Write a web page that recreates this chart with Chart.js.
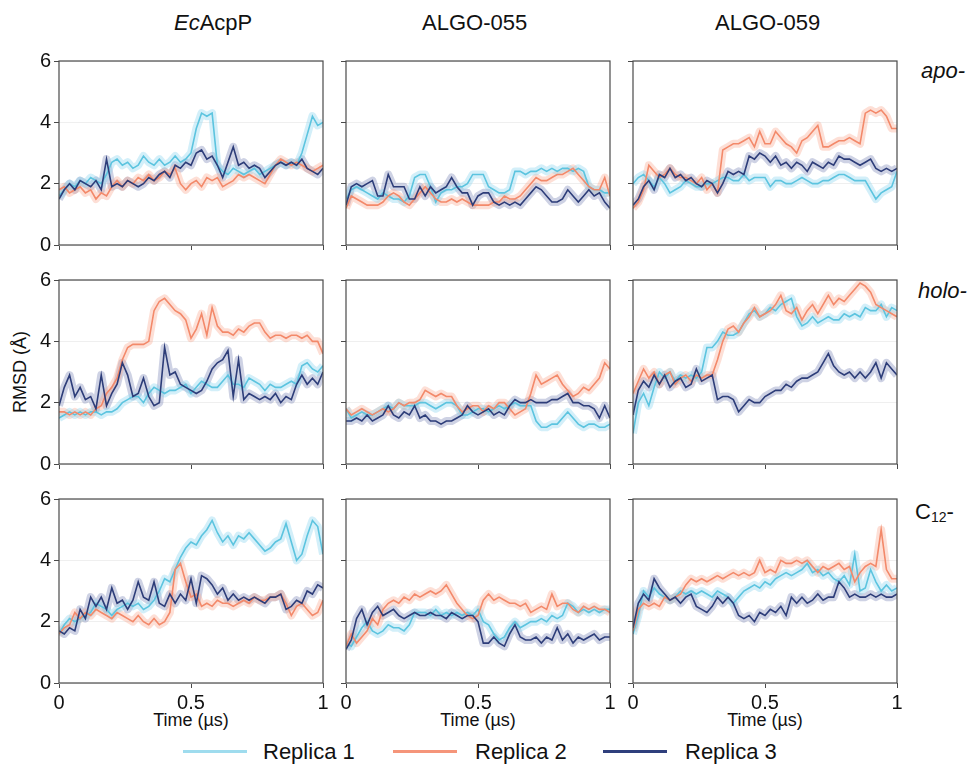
<!DOCTYPE html>
<html lang="en">
<head>
<meta charset="UTF-8">
<title>RMSD replicas</title>
<script src="https://cdn.jsdelivr.net/npm/chart.js"></script>
<style>
  body{margin:0;background:#fff;font-family:"Liberation Sans",Arial,sans-serif;color:#111}
  #page{position:relative;width:973px;height:766px;overflow:hidden}
  .panel{position:absolute;width:328px;height:238px}
  .title{position:absolute;top:12px;font-size:22px;line-height:1;white-space:nowrap}
  .row{position:absolute;font-size:22px;line-height:1;white-space:nowrap}
  .row sub{font-size:14px;vertical-align:-3px;line-height:0}
  .xt{position:absolute;top:711px;width:264px;text-align:center;font-size:18px;line-height:1;white-space:nowrap}
  #ylab{position:absolute;left:20px;top:372px;font-size:18px;line-height:1;white-space:nowrap;transform:translate(-50%,-50%) rotate(-90deg)}
  .lg{position:absolute;top:750px;height:3px;width:64px}
  .lt{position:absolute;top:741px;font-size:22px;line-height:1;white-space:nowrap}
</style>
</head>
<body>
<div id="page">
  <div class="title" style="left:174px"><i>Ec</i>AcpP</div>
  <div class="title" style="left:422px">ALGO-055</div>
  <div class="title" style="left:715px">ALGO-059</div>

  <div class="row" style="left:921px;top:60px"><i>apo-</i></div>
  <div class="row" style="left:918px;top:280px"><i>holo-</i></div>
  <div class="row" style="left:915px;top:501px">C<sub>12</sub>-</div>

  <div id="ylab">RMSD (Å)</div>

  <div class="xt" style="left:59px">Time (µs)</div>
  <div class="xt" style="left:346px">Time (µs)</div>
  <div class="xt" style="left:633px">Time (µs)</div>

  <div class="lg" style="left:183px;background:#9fdcee"></div>
  <div class="lt" style="left:263px">Replica 1</div>
  <div class="lg" style="left:393px;background:#f5957a"></div>
  <div class="lt" style="left:475px">Replica 2</div>
  <div class="lg" style="left:603px;background:#2f3f7c"></div>
  <div class="lt" style="left:685px">Replica 3</div>
</div>

<script>
// sample times (µs)
const timeUs = [0,0.02,0.04,0.06,0.08,0.1,0.12,0.14,0.16,0.18,0.2,0.22,0.24,0.26,0.28,0.3,0.32,0.34,0.36,0.38,0.4,0.42,0.44,0.46,0.48,0.5,0.52,0.54,0.56,0.58,0.6,0.62,0.64,0.66,0.68,0.7,0.72,0.74,0.76,0.78,0.8,0.82,0.84,0.86,0.88,0.9,0.92,0.94,0.96,0.98,1];

const colTitles = ['EcAcpP','ALGO-055','ALGO-059'];
const rowNames = ['apo-','holo-','C12-'];
const replicas = ['Replica 1','Replica 2','Replica 3'];
const yTicks = [0,2,4,6];
const xTicks = [0,0.5,1];

// EcAcpP apo-
const ecApoR1 = [1.6,1.8,2.0,1.9,2.1,2.0,2.2,2.1,2.0,2.3,2.7,2.8,2.6,2.7,2.5,2.6,2.9,2.7,2.6,2.8,2.6,2.7,2.9,2.7,2.8,3.0,3.8,4.3,4.2,4.3,2.6,2.4,2.3,2.5,2.4,2.3,2.4,2.5,2.3,2.4,2.5,2.6,2.7,2.6,2.7,2.6,3.0,3.6,4.2,3.9,4.0];
const ecApoR2 = [1.8,1.9,1.7,1.8,1.9,1.7,1.8,1.5,1.7,1.6,1.9,2.1,1.9,2.1,2.0,2.2,2.1,2.3,2.1,2.2,2.4,2.3,2.5,2.0,1.8,2.0,2.1,1.9,2.2,2.1,2.2,1.9,2.0,2.1,2.3,2.2,2.3,2.2,2.1,2.0,2.3,2.6,2.8,2.7,2.6,2.7,2.6,2.5,2.4,2.5,2.6];
const ecApoR3 = [1.5,1.8,2.0,1.8,2.1,2.0,1.9,2.1,1.8,2.8,1.9,2.0,1.9,2.1,2.0,1.9,2.0,2.2,2.1,2.3,2.4,2.2,2.6,2.5,2.7,2.6,3.0,3.1,2.8,2.9,2.6,2.2,2.7,3.2,2.6,2.7,2.5,2.6,2.5,2.2,2.4,2.6,2.7,2.6,2.7,2.6,2.8,2.5,2.4,2.3,2.5];

// ALGO-055 apo-
const a55ApoR1 = [1.5,1.8,1.9,1.8,1.7,1.6,1.5,1.7,1.6,1.5,1.5,1.4,1.6,2.2,2.3,2.3,1.9,1.4,1.7,1.8,1.8,1.9,1.9,2.0,2.3,2.3,2.3,1.9,1.8,1.7,1.7,1.8,2.4,2.4,2.3,2.4,2.4,2.5,2.4,2.5,2.4,2.5,2.5,2.4,2.5,2.4,1.9,1.8,1.8,1.7,1.7];
const a55ApoR2 = [1.2,1.6,1.5,1.4,1.3,1.3,1.3,1.4,1.6,1.7,1.6,1.4,1.3,1.5,1.7,1.9,1.7,1.5,1.4,1.4,1.5,1.4,1.5,1.4,1.3,1.3,1.3,1.3,1.4,1.4,1.6,1.5,1.5,1.6,1.8,2.0,2.2,2.1,2.1,2.2,2.3,2.3,2.4,2.5,2.3,2.1,1.9,1.8,1.8,2.2,1.6];
const a55ApoR3 = [1.3,1.9,2.0,1.9,2.0,2.1,1.6,1.6,2.3,1.9,1.9,1.9,1.5,1.5,1.9,1.6,1.9,1.7,1.8,1.9,2.2,1.9,1.7,1.7,1.3,1.6,1.7,1.7,1.4,1.3,1.4,1.3,1.4,1.3,1.5,1.7,1.9,1.8,1.6,1.4,1.4,1.5,1.8,1.6,1.4,1.6,1.8,1.6,1.7,1.4,1.2];

// ALGO-059 apo-
const a59ApoR1 = [2.0,2.2,2.3,2.1,1.9,2.2,2.0,1.7,1.8,1.9,2.1,2.0,1.9,1.9,2.0,2.0,2.1,2.2,2.2,2.1,2.1,2.3,2.1,2.2,2.2,2.2,1.9,2.1,2.1,2.0,2.0,2.1,2.2,2.1,2.0,2.0,2.1,2.1,2.2,2.3,2.3,2.2,2.1,2.1,2.1,1.8,1.5,1.7,1.8,1.9,2.4];
const a59ApoR2 = [1.2,1.4,1.8,2.6,2.4,2.2,2.3,2.5,2.3,2.2,2.2,2.1,2.0,2.2,1.8,2.0,1.7,3.1,3.2,3.3,3.3,3.4,3.5,3.2,3.7,3.3,3.3,3.7,3.5,3.3,3.2,3.0,3.4,3.5,3.7,3.9,3.2,3.2,3.3,3.4,3.4,3.5,3.4,3.3,4.3,4.4,4.3,4.4,4.2,3.8,3.8];
const a59ApoR3 = [1.3,1.5,1.9,2.1,1.8,2.3,2.2,2.5,2.2,2.3,2.1,2.2,2.0,1.9,2.1,2.0,1.7,2.0,2.4,2.3,2.4,2.3,2.9,2.8,3.0,2.9,2.7,2.9,2.6,2.7,2.5,2.7,2.6,2.4,2.7,2.6,2.5,2.7,2.6,2.9,2.8,2.8,2.7,2.6,2.7,2.8,2.5,2.4,2.5,2.4,2.5];

// EcAcpP holo-
const ecHoloR1 = [1.5,1.6,1.7,1.6,1.7,1.6,1.7,1.7,1.6,1.7,1.7,1.8,2.0,2.1,2.2,2.2,2.0,2.3,2.5,2.4,2.3,2.4,2.4,2.5,2.6,2.3,2.5,2.7,2.6,2.5,2.5,2.7,2.9,2.6,2.6,2.5,2.8,2.7,2.6,2.4,2.6,2.5,2.5,2.6,2.7,2.6,3.2,3.3,3.1,3.0,3.2];
const ecHoloR2 = [1.7,1.7,1.6,1.7,1.6,1.7,1.6,1.8,1.9,2.3,2.5,2.8,3.4,3.8,3.9,3.9,3.9,4.0,5.0,5.3,5.4,5.2,5.0,4.9,4.7,4.1,4.4,4.9,4.2,5.1,4.5,4.3,4.3,4.2,4.4,4.3,4.5,4.6,4.6,4.3,4.1,4.2,4.2,4.1,4.2,4.2,4.1,4.2,4.0,4.0,3.6];
const ecHoloR3 = [1.9,2.5,2.9,2.2,2.5,2.1,2.2,1.8,2.9,1.9,2.3,2.6,3.3,2.9,2.2,2.3,2.8,2.2,1.9,2.0,3.8,2.9,3.0,2.6,2.5,2.4,2.3,2.4,2.7,3.1,3.3,3.4,3.7,2.2,3.4,2.1,2.3,2.2,2.1,2.2,2.1,2.3,2.0,2.2,2.1,2.6,2.9,2.6,2.8,2.6,3.0];

// ALGO-055 holo-
const a55HoloR1 = [1.8,1.5,1.6,1.7,1.6,1.6,1.7,1.8,1.9,1.8,2.0,1.9,1.9,1.9,2.0,2.0,1.9,1.8,1.9,2.0,2.0,1.9,1.6,1.6,1.7,1.8,1.8,1.7,1.8,1.9,1.8,1.9,2.0,1.9,1.9,1.9,1.4,1.2,1.2,1.3,1.3,1.5,1.7,1.5,1.3,1.2,1.3,1.3,1.2,1.2,1.3];
const a55HoloR2 = [1.8,1.6,1.7,1.8,1.7,1.6,1.7,1.8,1.7,1.8,2.0,1.9,2.0,2.0,2.1,2.4,2.3,2.2,2.3,2.2,2.2,1.9,1.7,1.8,1.9,1.9,1.7,1.9,1.8,2.0,2.0,1.8,1.6,1.7,1.8,2.3,2.9,2.6,2.7,2.8,2.9,2.6,2.4,2.2,2.3,2.5,2.4,2.6,2.8,3.3,3.1];
const a55HoloR3 = [1.4,1.4,1.5,1.4,1.6,1.4,1.5,1.6,1.9,1.6,1.5,1.7,1.6,1.9,1.5,1.6,1.4,1.4,1.3,1.4,1.4,1.5,1.6,1.9,1.7,1.6,1.7,1.8,1.6,1.7,1.6,1.9,2.1,2.0,2.0,2.1,2.0,2.0,2.0,2.1,2.1,2.2,2.3,2.0,2.0,1.9,1.9,1.8,1.5,1.9,1.5];

// ALGO-059 holo-
const a59HoloR1 = [1.0,2.0,2.3,1.9,2.5,3.0,2.8,3.0,2.7,2.9,2.8,2.9,2.8,3.0,3.8,3.8,4.0,4.3,4.2,4.2,4.3,4.6,4.9,5.0,4.8,4.9,5.1,5.0,5.2,5.3,5.4,4.8,4.5,4.6,4.8,4.6,4.7,4.8,4.7,4.7,4.9,4.8,4.9,4.8,5.1,5.0,5.0,5.2,4.8,5.1,5.0];
const a59HoloR2 = [2.3,2.7,3.1,2.8,3.0,2.6,2.9,3.0,2.6,2.8,2.9,2.7,2.9,2.8,2.9,2.9,3.4,4.0,4.4,4.5,4.3,4.6,4.8,5.1,4.8,4.9,5.0,5.2,5.5,5.0,4.9,5.1,4.7,5.0,5.2,4.9,5.2,5.5,5.2,5.4,5.3,5.5,5.7,5.9,5.8,5.6,5.2,5.1,5.0,4.9,4.8];
const a59HoloR3 = [1.6,2.4,2.7,2.5,2.9,2.6,2.9,2.5,2.7,2.8,2.5,2.6,3.1,2.7,2.8,2.9,2.1,2.2,2.2,2.1,1.7,1.9,2.1,2.0,2.0,2.2,2.3,2.4,2.4,2.6,2.5,2.7,2.8,2.8,2.9,3.0,3.3,3.6,3.2,3.0,2.9,3.0,2.8,3.0,2.8,3.0,3.3,2.8,3.3,3.1,2.9];

// EcAcpP C12-
const ecC12R1 = [1.6,1.9,2.1,2.0,2.1,2.2,2.3,2.6,2.5,2.4,2.2,2.4,2.5,2.6,2.5,2.6,2.4,2.5,2.7,3.0,3.4,3.3,3.7,4.1,4.4,4.6,4.5,4.8,5.0,5.3,4.9,4.6,4.8,4.5,4.8,4.7,4.9,4.7,4.5,4.3,4.4,4.6,4.7,5.2,4.6,4.0,4.2,4.8,5.3,5.1,4.2];
const ecC12R2 = [1.6,1.8,1.9,2.3,2.1,2.3,2.2,2.4,2.3,2.2,2.1,2.3,2.2,2.1,2.0,2.2,2.0,1.9,2.1,1.9,2.0,2.3,3.7,3.9,3.3,2.8,2.9,2.5,2.6,2.5,2.7,2.6,2.6,2.5,2.6,2.7,2.6,2.8,2.7,2.7,2.8,2.8,2.9,2.6,2.2,2.5,2.6,2.4,2.2,2.3,2.7];
const ecC12R3 = [1.7,1.6,1.8,1.7,2.4,2.1,2.8,2.5,2.8,2.4,3.1,2.6,2.7,2.4,2.7,3.3,2.8,2.7,3.3,2.6,2.5,2.9,2.6,2.9,2.7,3.4,2.6,3.5,3.4,3.2,2.9,3.1,2.7,2.9,2.7,2.8,2.7,2.8,2.7,2.6,2.8,2.8,2.9,2.4,2.5,2.7,2.6,3.0,2.9,3.2,3.1];

// ALGO-055 C12-
const a55C12R1 = [1.3,1.2,1.5,1.8,2.0,1.7,1.6,1.7,1.9,1.8,1.8,1.7,1.9,2.3,2.3,2.3,2.2,2.4,2.2,2.3,2.2,2.3,2.2,2.3,2.2,2.4,2.0,1.9,1.6,1.4,1.5,1.8,2.0,1.8,1.9,2.0,2.0,2.1,2.0,2.2,2.1,2.2,2.6,2.5,2.3,2.4,2.3,2.4,2.3,2.4,2.4];
const a55C12R2 = [1.2,1.6,1.3,1.5,1.7,2.1,1.9,2.4,2.6,2.7,2.6,2.8,2.7,2.9,2.8,2.9,3.0,2.9,3.0,3.2,2.9,2.6,2.4,2.2,2.1,2.2,2.7,2.9,2.7,2.8,2.7,2.6,2.6,2.5,2.6,2.3,2.4,2.5,2.4,2.9,2.5,2.6,2.6,2.4,2.3,2.5,2.4,2.5,2.4,2.4,2.3];
const a55C12R3 = [1.1,1.4,2.1,2.4,1.9,2.3,2.5,2.2,2.3,2.4,2.2,2.1,2.2,2.3,2.2,2.2,2.3,2.2,2.2,2.1,2.3,2.2,2.1,2.2,2.2,2.0,1.3,1.3,1.5,1.3,1.2,1.6,1.9,1.5,1.4,1.4,1.5,1.3,1.5,1.4,1.8,1.4,1.6,1.3,1.5,1.4,1.5,1.6,1.4,1.5,1.5];

// ALGO-059 C12-
const a59C12R1 = [1.6,2.2,3.0,2.8,3.1,2.9,2.8,2.7,2.8,3.0,2.9,3.0,2.9,3.0,2.9,2.8,3.0,2.9,2.8,2.6,2.8,3.0,3.1,3.2,3.1,3.3,3.2,3.4,3.5,3.6,3.5,3.6,3.7,3.9,3.6,3.7,3.5,3.6,3.4,3.3,3.5,3.2,4.2,3.0,3.1,3.7,3.3,3.0,3.2,3.0,3.1];
const a59C12R2 = [1.7,2.4,2.6,2.5,2.6,2.5,2.8,2.7,2.8,2.9,3.2,3.4,3.3,3.4,3.3,3.4,3.5,3.4,3.5,3.6,3.5,3.6,3.5,3.6,4.0,3.6,3.7,3.6,4.0,3.9,3.9,4.0,3.9,4.0,3.8,3.6,3.8,3.7,3.8,3.9,3.7,3.8,3.3,3.6,3.8,3.9,3.8,5.0,3.7,3.4,3.4];
const a59C12R3 = [1.8,2.6,2.9,2.7,3.4,3.1,2.9,2.7,2.8,2.6,2.8,2.9,2.5,2.4,2.3,2.5,2.8,2.6,2.8,2.6,2.2,2.1,2.2,2.0,2.3,2.2,2.4,2.3,2.5,2.2,2.8,2.6,2.8,2.6,2.7,2.9,2.7,2.8,2.8,3.3,3.1,2.8,2.9,2.8,2.8,2.9,2.8,2.9,2.8,2.8,2.9];

const lineColors = ['#5cc4df','#f3896a','#2d3d79'];
const bandColors = ['rgba(140,214,238,0.38)','rgba(248,160,135,0.34)','rgba(118,130,180,0.36)'];

const colLeft = [59,346,633];
const rowTop = [61,280,499];
const panelW = 328, panelH = 238;

const panels = [
  [[ecApoR1,ecApoR2,ecApoR3],[a55ApoR1,a55ApoR2,a55ApoR3],[a59ApoR1,a59ApoR2,a59ApoR3]],
  [[ecHoloR1,ecHoloR2,ecHoloR3],[a55HoloR1,a55HoloR2,a55HoloR3],[a59HoloR1,a59HoloR2,a59HoloR3]],
  [[ecC12R1,ecC12R2,ecC12R3],[a55C12R1,a55C12R2,a55C12R3],[a59C12R1,a59C12R2,a59C12R3]]
];

Chart.defaults.font.family = '"Liberation Sans", Arial, sans-serif';
Chart.defaults.color = '#111';

// frame round the plot area
const boxPlugin = {
  id: 'box',
  afterDatasetsDraw(c) {
    const {ctx, chartArea: a} = c;
    ctx.save();
    ctx.strokeStyle = '#4a4a4a';
    ctx.lineWidth = 1.2;
    ctx.strokeRect(a.left, a.top, a.right - a.left, a.bottom - a.top);
    ctx.restore();
  }
};

const page = document.getElementById('page');

panels.forEach((row, r) => {
  row.forEach((sets, c) => {
    const div = document.createElement('div');
    div.className = 'panel';
    div.style.left = (colLeft[c] - 50) + 'px';
    div.style.top = (rowTop[r] - 14) + 'px';
    const cv = document.createElement('canvas');
    cv.width = panelW;
    cv.height = panelH;
    div.appendChild(cv);
    page.appendChild(div);

    const datasets = [];
    sets.forEach((vals, k) => {
      datasets.push({
        label: replicas[k] + ' raw', data: vals, borderColor: bandColors[k],
        borderWidth: 8, borderJoinStyle: 'round', pointRadius: 0, tension: 0, order: 3 + k
      });
    });
    sets.forEach((vals, k) => {
      datasets.push({
        label: replicas[k], data: vals, borderColor: lineColors[k],
        borderWidth: 1.6, pointRadius: 0, tension: 0, order: 2 - k
      });
    });

    new Chart(cv, {
      type: 'line',
      data: {labels: timeUs, datasets},
      options: {
        responsive: false, animation: false, devicePixelRatio: 1,
        layout: {padding: {top: 14, right: 14, left: 0, bottom: 0}},
        plugins: {legend: {display: false}, tooltip: {enabled: false}},
        scales: {
          x: {
            type: 'linear', min: 0, max: 1,
            afterFit: s => { s.height = 40; s.paddingLeft = 0; s.paddingRight = 0; },
            afterBuildTicks: s => { s.ticks = xTicks.map(v => ({value: v})); },
            ticks: {display: r === 2, padding: 3, font: {size: 20}, color: '#111', callback: v => String(v)},
            grid: {drawOnChartArea: false, drawTicks: true, tickLength: 5, tickColor: '#4a4a4a'},
            border: {display: false}
          },
          y: {
            min: 0, max: 6,
            afterFit: s => { s.width = 50; s.paddingTop = 0; s.paddingBottom = 0; },
            afterBuildTicks: s => { s.ticks = yTicks.map(v => ({value: v})); },
            ticks: {display: c === 0, padding: 3, font: {size: 20}, color: '#111', callback: v => String(v)},
            grid: {color: '#efefef', lineWidth: 1, drawTicks: true, tickLength: 5, tickColor: '#4a4a4a'},
            border: {display: false}
          }
        }
      },
      plugins: [boxPlugin]
    });
  });
});
</script>
</body>
</html>
